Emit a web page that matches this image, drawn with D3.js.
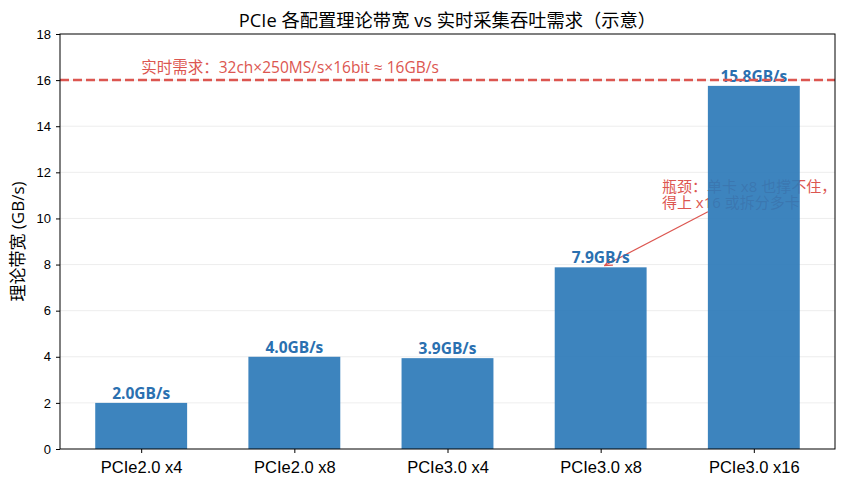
<!DOCTYPE html>
<html>
<head>
<meta charset="utf-8">
<script src="https://cdn.jsdelivr.net/npm/d3@7/dist/d3.min.js"></script>
<style>
  body { margin: 0; background: #fff; }
  svg { font-family: "Open Sans", "Noto Sans CJK SC", sans-serif; }
</style>
</head>
<body>
<svg id="chart" width="846" height="487"></svg>
<script>
// chart data
const categories = ["PCIe2.0 x4", "PCIe2.0 x8", "PCIe3.0 x4", "PCIe3.0 x8", "PCIe3.0 x16"];
const bandwidth = [2.0, 4.0, 3.94, 7.88, 15.75];
const barLabels = ["2.0GB/s", "4.0GB/s", "3.9GB/s", "7.9GB/s", "15.8GB/s"];
const yTicks = [0, 2, 4, 6, 8, 10, 12, 14, 16, 18];
const demand = 16;
const demandText = "实时需求：32ch×250MS/s×16bit ≈ 16GB/s";
const noteLines = ["瓶颈：单卡 x8 也撑不住，", "得上 x16 或拆分多卡"];
const notePoint = [3, 8.0];    // arrow tip (category index, value)
const noteAnchor = [3.4, 11.2]; // text top-left (category index, value)

const margin = { top: 34, right: 11, bottom: 38, left: 60 };
const width = 846 - margin.left - margin.right;
const height = 487 - margin.top - margin.bottom;

const red = "#dc5650";
const barColor = "#2c79b8";

const svg = d3.select("#chart");
const g = svg.append("g").attr("transform", `translate(${margin.left},${margin.top})`);

const x = d3.scaleLinear().domain([-0.53, categories.length - 1 + 0.53]).range([0, width]);
const y = d3.scaleLinear().domain([0, 18]).range([height, 0]);
const barW = x(0.6) - x(0);

// grid
g.selectAll(".grid")
  .data(yTicks.slice(1, -1))
  .enter().append("line")
  .attr("x1", 0).attr("x2", width)
  .attr("y1", d => y(d)).attr("y2", d => y(d))
  .attr("stroke", "#e8e8e8").attr("stroke-width", 0.8);

// annotation text (sits under the bars)
const note = g.append("text")
  .attr("fill", red)
  .attr("font-size", "15px");
noteLines.forEach((t, i) => {
  note.append("tspan")
    .attr("x", x(noteAnchor[0]))
    .attr("y", y(noteAnchor[1]) + 1 + i * 16)
    .text(t);
});

// arrow
svg.append("defs").append("marker")
  .attr("id", "arrowhead")
  .attr("viewBox", "0 0 10 10")
  .attr("refX", 9).attr("refY", 5)
  .attr("markerWidth", 7).attr("markerHeight", 7)
  .attr("orient", "auto")
  .append("path")
  .attr("d", "M0,1 L9,5 L0,9")
  .attr("fill", "none").attr("stroke", red).attr("stroke-width", 1.4);

g.append("line")
  .attr("x1", x(noteAnchor[0]) + 46)
  .attr("y1", y(noteAnchor[1]) + 21)
  .attr("x2", x(notePoint[0]) + 4)
  .attr("y2", y(notePoint[1]) + 1)
  .attr("stroke", red)
  .attr("stroke-width", 1.2)
  .attr("marker-end", "url(#arrowhead)");

// bars
g.selectAll(".bar")
  .data(bandwidth)
  .enter().append("rect")
  .attr("class", "bar")
  .attr("x", (d, i) => x(i) - barW / 2)
  .attr("y", d => y(d))
  .attr("width", barW)
  .attr("height", d => height - y(d))
  .attr("fill", barColor)
  .attr("fill-opacity", 0.92);

// bar value labels
g.selectAll(".val")
  .data(bandwidth)
  .enter().append("text")
  .attr("x", (d, i) => x(i))
  .attr("y", d => y(d) - 4)
  .attr("text-anchor", "middle")
  .attr("font-size", "15.5px")
  .attr("font-weight", "bold")
  .attr("fill", "#2a70b0")
  .text((d, i) => barLabels[i]);

// demand line
g.append("line")
  .attr("x1", 0).attr("x2", width)
  .attr("y1", y(demand)).attr("y2", y(demand))
  .attr("stroke", red)
  .attr("stroke-width", 2.5)
  .attr("stroke-dasharray", "9,4");

g.append("text")
  .attr("x", x(-0.0))
  .attr("y", y(demand) - 7)
  .attr("fill", red)
  .attr("font-size", "15.5px")
  .text(demandText);

// axes
const yAxis = d3.axisLeft(y).tickValues(yTicks).tickSize(4).tickPadding(5);
const xAxis = d3.axisBottom(x).tickValues(d3.range(categories.length))
  .tickFormat(i => categories[i]).tickSize(4).tickPadding(8);

const ya = g.append("g").call(yAxis);
ya.selectAll("text").attr("font-size", "13px").attr("fill", "#000");
const xa = g.append("g").attr("transform", `translate(0,${height})`).call(xAxis);
xa.selectAll("text").attr("font-size", "16.5px").attr("fill", "#000");
g.selectAll(".domain").remove();

// frame
g.append("rect")
  .attr("width", width).attr("height", height)
  .attr("fill", "none").attr("stroke", "#000").attr("stroke-width", 1);

// title and y label
svg.append("text")
  .attr("x", margin.left + width / 2)
  .attr("y", 27)
  .attr("text-anchor", "middle")
  .attr("font-size", "18.3px")
  .text("PCIe 各配置理论带宽 vs 实时采集吞吐需求（示意）");

svg.append("text")
  .attr("transform", `translate(24,${margin.top + height / 2}) rotate(-90)`)
  .attr("text-anchor", "middle")
  .attr("font-size", "17px")
  .text("理论带宽 (GB/s)");
</script>
</body>
</html>
